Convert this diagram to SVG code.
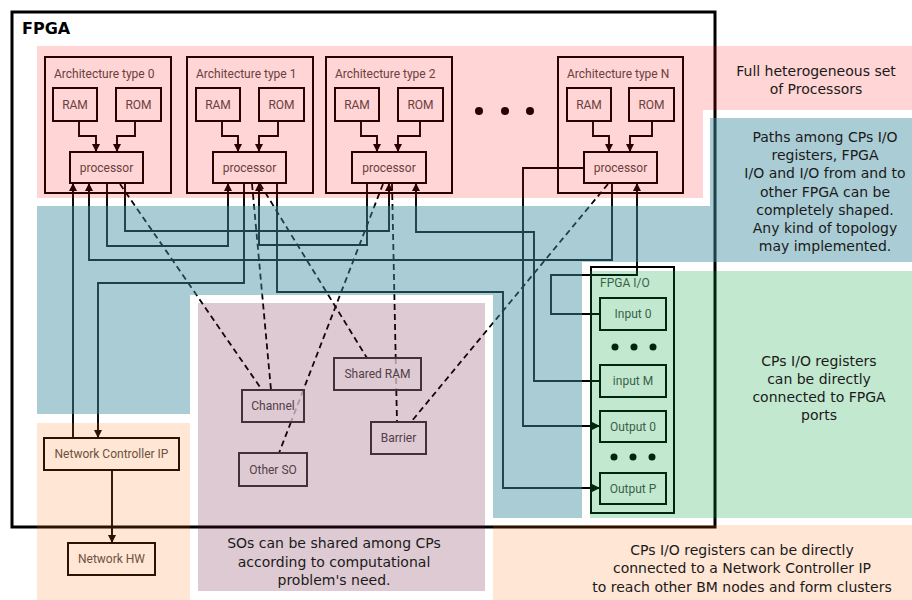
<svg xmlns="http://www.w3.org/2000/svg" width="912" height="600" viewBox="0 0 912 600">
<defs>
<marker id="ah" markerUnits="userSpaceOnUse" markerWidth="9" markerHeight="9" refX="8" refY="4.5" orient="auto">
<path d="M0,0.5 L8,4.5 L0,8.5 z" fill="#000"/>
</marker>
<style>
.box{fill:none;stroke:#000;stroke-width:2}
.sobox{fill:none;stroke:#3a3a3a;stroke-width:2}
.lbl{font-family:Roboto,"Liberation Sans",sans-serif;font-size:12px;fill:#4d4d4d}
.c{text-anchor:middle}
.w{fill:none;stroke:#000;stroke-width:1.9}
.arr{marker-end:url(#ah)}
.d{fill:none;stroke:#000;stroke-width:1.8;stroke-dasharray:6,4}
.faint{stroke-opacity:0.25}
.note{font-family:"DejaVu Sans",sans-serif;font-size:14px;fill:#1a1a1a;text-anchor:middle}
.dot{fill:#000}
</style>
</defs>
<rect width="912" height="600" fill="#fff"/>

<g id="fpga">
<rect x="12" y="12" width="703" height="515" fill="none" stroke="#000" stroke-width="3"/>
<text x="22" y="34" font-family="DejaVu Sans,sans-serif" font-weight="bold" font-size="16" fill="#000">FPGA</text>
</g>

<g id="arch0">
<rect class="box" x="45" y="57" width="126" height="136"/>
<text class="lbl" x="54" y="78">Architecture type 0</text>
<rect class="box" x="53" y="88" width="44" height="33"/><text class="lbl c" x="75" y="109">RAM</text>
<rect class="box" x="116" y="88" width="45" height="33"/><text class="lbl c" x="138.5" y="109">ROM</text>
<rect class="box" x="70" y="152" width="73" height="31"/><text class="lbl c" x="106.5" y="172">processor</text>
<path class="w arr" d="M79,121 V136 H96 V152"/>
<path class="w arr" d="M135,121 V136 H117 V152"/>
</g>

<g id="arch1">
<rect class="box" x="187" y="57" width="126" height="136"/>
<text class="lbl" x="196" y="78">Architecture type 1</text>
<rect class="box" x="196" y="88" width="44" height="33"/><text class="lbl c" x="218" y="109">RAM</text>
<rect class="box" x="259" y="88" width="45" height="33"/><text class="lbl c" x="281.5" y="109">ROM</text>
<rect class="box" x="213" y="152" width="73" height="31"/><text class="lbl c" x="249.5" y="172">processor</text>
<path class="w arr" d="M222,121 V136 H238 V152"/>
<path class="w arr" d="M278,121 V136 H259 V152"/>
</g>

<g id="arch2">
<rect class="box" x="326" y="57" width="126" height="136"/>
<text class="lbl" x="335" y="78">Architecture type 2</text>
<rect class="box" x="335" y="88" width="44" height="33"/><text class="lbl c" x="357" y="109">RAM</text>
<rect class="box" x="398" y="88" width="45" height="33"/><text class="lbl c" x="420.5" y="109">ROM</text>
<rect class="box" x="352" y="152" width="74" height="31"/><text class="lbl c" x="389" y="172">processor</text>
<path class="w arr" d="M361,121 V136 H377 V152"/>
<path class="w arr" d="M420,121 V136 H398 V152"/>
</g>

<g id="ellipsis-arch">
<circle class="dot" cx="479" cy="111" r="4"/>
<circle class="dot" cx="505" cy="111" r="4"/>
<circle class="dot" cx="530" cy="111" r="4"/>
</g>

<g id="archN">
<rect class="box" x="558" y="57" width="125" height="136"/>
<text class="lbl" x="567" y="78">Architecture type N</text>
<rect class="box" x="567" y="88" width="44" height="33"/><text class="lbl c" x="589" y="109">RAM</text>
<rect class="box" x="629" y="88" width="45" height="33"/><text class="lbl c" x="651.5" y="109">ROM</text>
<rect class="box" x="584" y="152" width="73" height="31"/><text class="lbl c" x="620.5" y="172">processor</text>
<path class="w arr" d="M593,121 V136 H609 V152"/>
<path class="w arr" d="M652,121 V136 H630 V152"/>
</g>

<g id="fpga-io">
<rect class="box" x="591" y="267" width="83" height="246"/>
<text class="lbl" x="600" y="287" fill="#555">FPGA I/O</text>
<rect class="box" x="600" y="298" width="66" height="32"/><text class="lbl c" x="633" y="318">Input 0</text>
<circle class="dot" cx="615" cy="347" r="3.5"/><circle class="dot" cx="634" cy="347" r="3.5"/><circle class="dot" cx="653" cy="347" r="3.5"/>
<rect class="box" x="600" y="365" width="66" height="32"/><text class="lbl c" x="633" y="385">input M</text>
<rect class="box" x="600" y="411" width="66" height="31"/><text class="lbl c" x="633" y="431">Output 0</text>
<circle class="dot" cx="614" cy="457" r="3.5"/><circle class="dot" cx="633" cy="457" r="3.5"/><circle class="dot" cx="652" cy="457" r="3.5"/>
<rect class="box" x="600" y="473" width="66" height="31"/><text class="lbl c" x="633" y="493">Output P</text>
</g>

<g id="network-controller">
<rect class="box" x="44" y="438" width="135" height="32"/><text class="lbl c" x="111.5" y="458">Network Controller IP</text>
</g>
<g id="network-hw">
<rect class="box" x="68" y="543" width="87" height="32"/><text class="lbl c" x="111.5" y="563">Network HW</text>
</g>

<g id="connectors">
<path class="w arr" d="M73,438 V183"/>
<path class="w arr" d="M612,183 V260 H89 V183"/>
<path class="w arr" d="M107,183 V246 H228 V183"/>
<path class="w arr" d="M125,183 V231 H389 V183"/>
<path class="w arr" d="M244,183 V283 H98 V438"/>
<path class="w arr" d="M367,183 V245 H259 V183"/>
<path class="w arr" d="M277,183 V292 H503 V488 H600"/>
<path class="w arr" d="M600,381 H534 V232 H416 V183"/>
<path class="w arr" d="M584,168 H523 V426 H600"/>
<path class="w arr" d="M600,314 H551 V275 H637 V183"/>
<path class="w arr" d="M112,470 V543"/>
<path class="d" d="M120,184 L262,390"/>
<path class="d" d="M252,184 L271,390"/>
<path class="d" d="M260,184 L367,358"/>
<path class="d" d="M383,184 L303.3,390"/>
<path class="d faint" d="M303.3,390 L291,422"/>
<path class="d" d="M291,422 L279,453"/>
<path class="d" d="M392,184 L395.7,358"/>
<path class="d faint" d="M395.7,358 L396.3,390"/>
<path class="d" d="M396.3,390 L397,422"/>
<path class="d" d="M608,184 L411,422"/>
</g>

<g id="shared-objects">
<g id="channel"><rect class="sobox" x="242" y="390" width="62" height="32"/><text class="lbl c" x="273" y="410">Channel</text></g>
<g id="other-so"><rect class="sobox" x="239" y="453" width="68" height="33"/><text class="lbl c" x="273" y="474">Other SO</text></g>
<g id="shared-ram"><rect class="sobox" x="334" y="358" width="87" height="32"/><text class="lbl c" x="377.5" y="378">Shared RAM</text></g>
<g id="barrier"><rect class="sobox" x="371" y="422" width="55" height="32"/><text class="lbl c" x="398.5" y="442">Barrier</text></g>
</g>

<g id="regions">
<path d="M37,46 H912 V110 H703 V198 H37 Z" fill="#ff0000" fill-opacity="0.165"/>
<path d="M710,118 H912 V262 H582 V518 H493 V295 H190 V414 H37 V206 H710 Z" fill="#428e9f" fill-opacity="0.45"/>
<rect x="590" y="271" width="322" height="247" fill="#05a03b" fill-opacity="0.24"/>
<rect x="198" y="303" width="287" height="288" fill="#690e37" fill-opacity="0.22"/>
<rect x="37" y="423" width="153" height="177" fill="#ff6c08" fill-opacity="0.17"/>
<rect x="493" y="525" width="419" height="75" fill="#ff6c08" fill-opacity="0.17"/>
</g>

<g id="notes">
<text class="note" x="816" y="76">Full heterogeneous set</text>
<text class="note" x="816" y="94">of Processors</text>
<text class="note" x="825" y="142">Paths among CPs I/O</text>
<text class="note" x="825" y="160">registers, FPGA</text>
<text class="note" x="825" y="178">I/O and I/O from and to</text>
<text class="note" x="825" y="197">other FPGA can be</text>
<text class="note" x="825" y="215">completely shaped.</text>
<text class="note" x="825" y="233">Any kind of topology</text>
<text class="note" x="825" y="251">may implemented.</text>
<text class="note" x="819" y="366">CPs I/O registers</text>
<text class="note" x="819" y="384">can be directly</text>
<text class="note" x="819" y="402">connected to FPGA</text>
<text class="note" x="819" y="420">ports</text>
<text class="note" x="334" y="548">SOs can be shared among CPs</text>
<text class="note" x="334" y="567">according to computational</text>
<text class="note" x="334" y="585">problem's need.</text>
<text class="note" x="742" y="555">CPs I/O registers can be directly</text>
<text class="note" x="742" y="573">connected to a Network Controller IP</text>
<text class="note" x="742" y="592">to reach other BM nodes and form clusters</text>
</g>
</svg>
